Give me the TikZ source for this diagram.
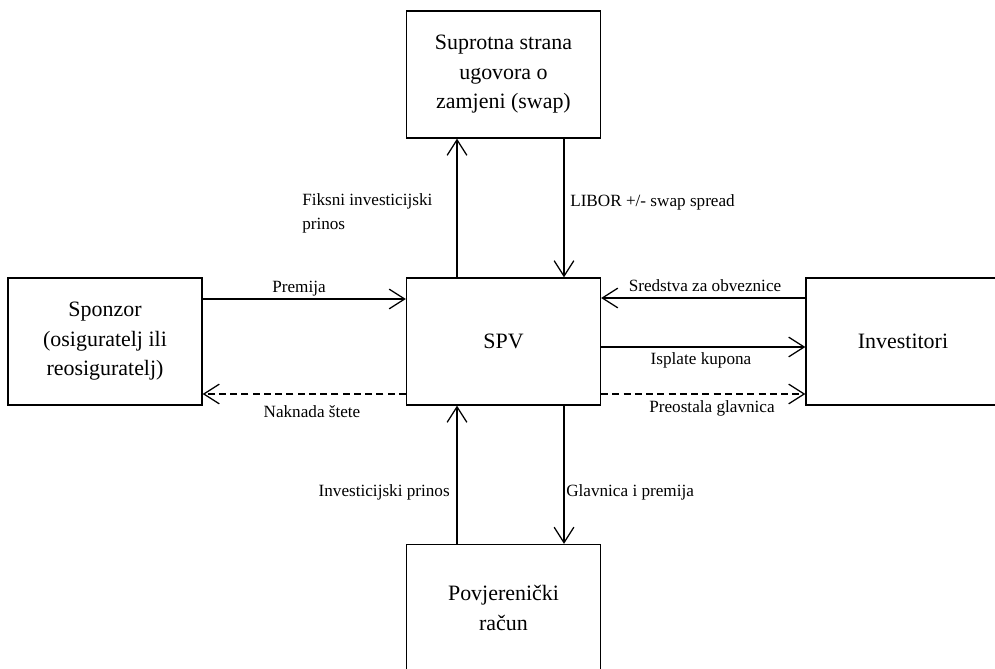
\documentclass[tikz,border=0pt]{standalone}
\usepackage{fontspec}
\setmainfont{Liberation Serif}
\usetikzlibrary{arrows.meta}

\begin{document}
\begin{tikzpicture}[x=0.025cm,y=-0.025cm,
  box/.style={draw,line width=0.9pt,minimum width=4.85cm,minimum height=3.175cm,
    align=center,inner sep=0pt,font=\fontsize{15.6}{21}\selectfont},
  lbl/.style={inner sep=0pt,font=\fontsize{12.2}{17}\selectfont},
  flow/.style={line width=0.9pt,-{Straight Barb[length=11pt,width=14pt,line width=0.9pt]}},
  back/.style={flow,dash pattern=on 5pt off 3pt}]
\useasboundingbox (0,0) rectangle (995,669);
\clip (0,0) rectangle (995,669);

% Nodes
\node[box] (swap) at (503.5,74.5) {Suprotna strana\\ugovora o\\zamjeni (swap)};
\node[box] (spv) at (503.5,341.5) {SPV};
\node[box] (racun) at (503.5,608) {Povjerenički\\račun};
\node[box] (spon) at (105,341.5) {Sponzor\\(osiguratelj ili\\reosiguratelj)};
\node[box] (inv) at (903,341.5) {Investitori};

% Arrows
\draw[flow] (spon.east |- 0,299) -- (spv.west |- 0,299);
\draw[back] (spv.west |- 0,394) -- (spon.east |- 0,394);
\draw[flow] (inv.west |- 0,298) -- (spv.east |- 0,298);
\draw[flow] (spv.east |- 0,347) -- (inv.west |- 0,347);
\draw[back] (spv.east |- 0,394) -- (inv.west |- 0,394);
\draw[flow] (spv.north -| 457,0) -- (swap.south -| 457,0);
\draw[flow] (swap.south -| 564,0) -- (spv.north -| 564,0);
\draw[flow] (racun.north -| 457,0) -- (spv.south -| 457,0);
\draw[flow] (spv.south -| 564,0) -- (racun.north -| 564,0);

% Labels
\node[lbl] (lprem) at (299,289) {Premija};
\node[lbl] (lnakn) at (312,412) {Naknada štete};
\node[lbl] (lsred) at (705,286) {Sredstva za obveznice};
\node[lbl] (lispl) at (701,360) {Isplate kupona};
\node[lbl] (lpreo) at (712,408) {Preostala glavnica};
\node[lbl,anchor=west,align=left] (lfiks) at (302,213) {Fiksni investicijski\\prinos};
\node[lbl,anchor=west] (llibor) at (570,202) {LIBOR +/- swap spread};
\node[lbl,anchor=east] (linv) at (450,492) {Investicijski prinos};
\node[lbl,anchor=west] (lglav) at (566,492) {Glavnica i premija};

\end{tikzpicture}
\end{document}
